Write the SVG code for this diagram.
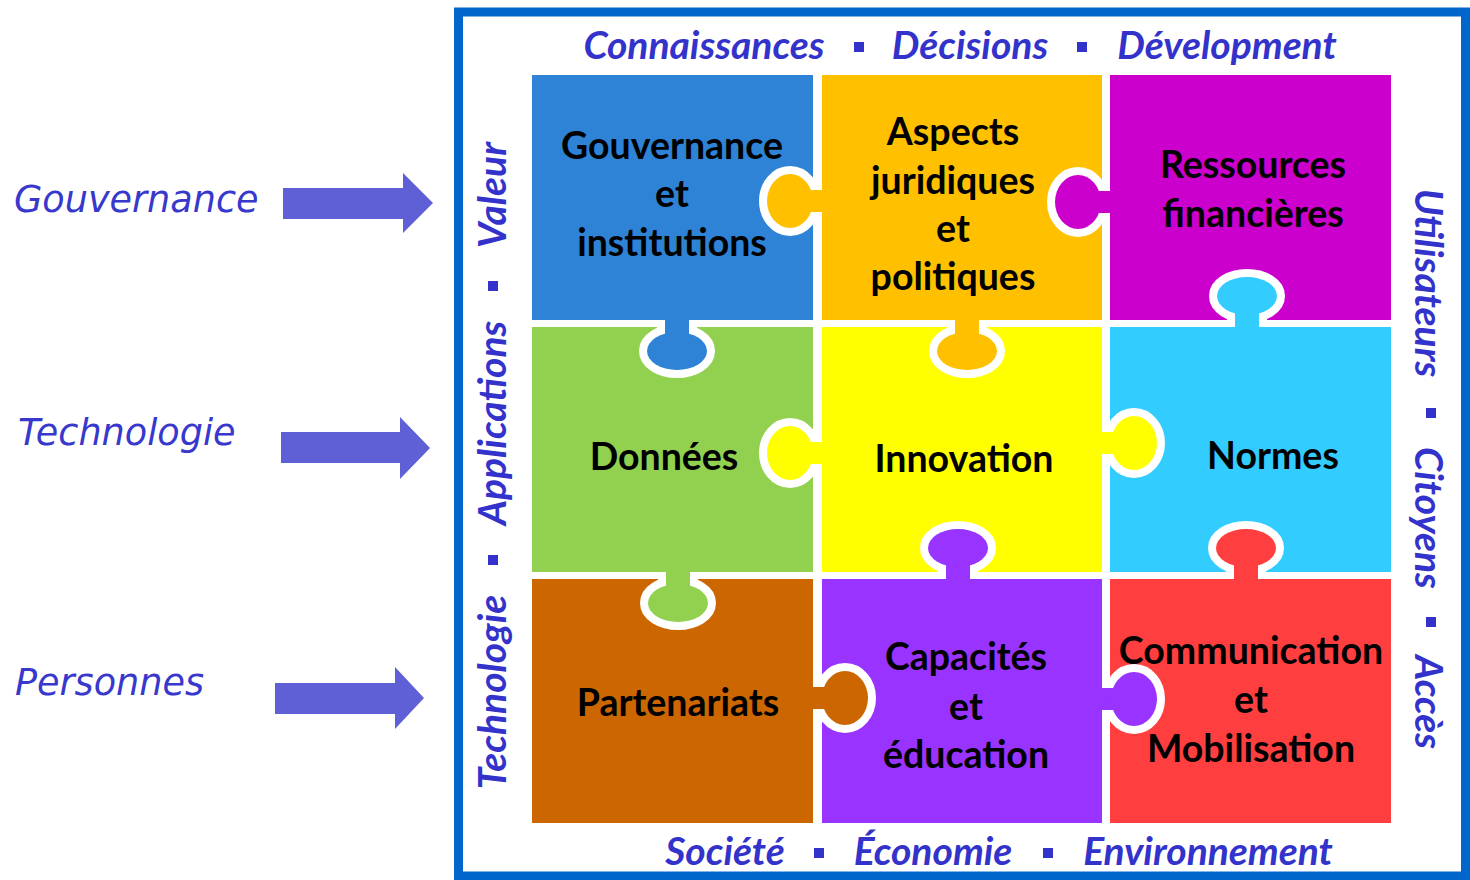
<svg xmlns="http://www.w3.org/2000/svg" xmlns:xlink="http://www.w3.org/1999/xlink" width="1470" height="880" viewBox="0 0 1470 880">
<style>
.frame{font-family:Lato,"Liberation Sans",sans-serif;font-weight:bold;font-style:italic;font-size:39px;fill:#3333CC;text-anchor:middle}
.side{font-family:"DejaVu Sans",Verdana,sans-serif;font-style:italic;font-size:36.6px;fill:#3838CC}
.lbl{font-family:Lato,"Liberation Sans",sans-serif;font-weight:bold;font-size:37.5px;fill:#000;text-anchor:middle}
.sq{fill:#3333CC}
.arrow{fill:#5F5FD6}
</style>
<defs>
<g id="vt"><rect x="-12" y="-4" width="24" height="26"/><ellipse cx="0" cy="31" rx="30" ry="19"/></g>
<g id="ht"><rect x="-4" y="-11" width="26" height="22"/><ellipse cx="32" cy="0" rx="23" ry="27"/></g>
<rect id="vc" x="-26" y="-14" width="52" height="14"/>
<rect id="hc" x="-14" y="-26" width="14" height="52"/>
</defs>
<rect width="1470" height="880" fill="#fff"/>

<g id="side-labels">
<text class="side" x="14" y="212">Gouvernance</text>
<text class="side" x="18" y="445">Technologie</text>
<text class="side" x="15" y="695">Personnes</text>
</g>
<g id="connectors">
<polygon class="arrow" points="283,188 403,188 403,173 433,203 403,233 403,219 283,219"/>
<polygon class="arrow" points="281,432 400,432 400,417 430,448 400,479 400,463 281,463"/>
<polygon class="arrow" points="275,683 395,683 395,667 424,698 395,729 395,714 275,714"/>
</g>

<g id="frame">
<rect x="458.5" y="12" width="1007" height="864" fill="none" stroke="#0066CC" stroke-width="9"/>
<text class="frame" x="704" y="59">Connaissances</text>
<rect class="sq" x="854" y="42" width="10" height="10"/>
<text class="frame" x="970" y="59">Décisions</text>
<rect class="sq" x="1077" y="42" width="10" height="10"/>
<text class="frame" x="1227" y="59">Dévelopment</text>
<text class="frame" x="725" y="865">Société</text>
<rect class="sq" x="814" y="848" width="10" height="10"/>
<text class="frame" x="933" y="865">Économie</text>
<rect class="sq" x="1043" y="848" width="10" height="10"/>
<text class="frame" x="1208" y="865">Environnement</text>
<text class="frame" transform="translate(506,692) rotate(-90)">Technologie</text>
<rect class="sq" x="488" y="555" width="10" height="10"/>
<text class="frame" transform="translate(506,423) rotate(-90)">Applications</text>
<rect class="sq" x="488" y="281" width="10" height="10"/>
<text class="frame" transform="translate(506,195) rotate(-90)">Valeur</text>
<text class="frame" transform="translate(1415,283) rotate(90)">Utilisateurs</text>
<rect class="sq" x="1426" y="408" width="10" height="10"/>
<text class="frame" transform="translate(1415,518) rotate(90)">Citoyens</text>
<rect class="sq" x="1426" y="617" width="10" height="10"/>
<text class="frame" transform="translate(1415,702) rotate(90)">Accès</text>
</g>

<g id="pieces">
<rect id="p-gouv" x="532" y="75" width="281" height="245" fill="#2E83D6"/>
<rect id="p-jur" x="822" y="75" width="280" height="245" fill="#FFC000"/>
<rect id="p-fin" x="1110" y="75" width="281" height="245" fill="#CC00CC"/>
<rect id="p-don" x="532" y="327" width="281" height="245" fill="#92D050"/>
<rect id="p-inn" x="822" y="327" width="280" height="245" fill="#FFFF00"/>
<rect id="p-norm" x="1110" y="327" width="281" height="245" fill="#33CCFF"/>
<rect id="p-part" x="532" y="579" width="281" height="244" fill="#CC6600"/>
<rect id="p-cap" x="822" y="579" width="280" height="244" fill="#9933FF"/>
<rect id="p-com" x="1110" y="579" width="281" height="244" fill="#FF3F3F"/>
</g>

<g id="tabs">
<g transform="translate(677,320)"><use xlink:href="#vt" fill="#fff" stroke="#fff" stroke-width="16"/><use xlink:href="#vt" fill="#2E83D6"/><use xlink:href="#vc" fill="#2E83D6"/></g>
<g transform="translate(967,320)"><use xlink:href="#vt" fill="#fff" stroke="#fff" stroke-width="16"/><use xlink:href="#vt" fill="#FFC000"/><use xlink:href="#vc" fill="#FFC000"/></g>
<g transform="translate(678,572)"><use xlink:href="#vt" fill="#fff" stroke="#fff" stroke-width="16"/><use xlink:href="#vt" fill="#92D050"/><use xlink:href="#vc" fill="#92D050"/></g>
<g transform="translate(1247,327) scale(1,-1)"><use xlink:href="#vt" fill="#fff" stroke="#fff" stroke-width="16"/><use xlink:href="#vt" fill="#33CCFF"/><use xlink:href="#vc" fill="#33CCFF"/></g>
<g transform="translate(958,579) scale(1,-1)"><use xlink:href="#vt" fill="#fff" stroke="#fff" stroke-width="16"/><use xlink:href="#vt" fill="#9933FF"/><use xlink:href="#vc" fill="#9933FF"/></g>
<g transform="translate(1246,579) scale(1,-1)"><use xlink:href="#vt" fill="#fff" stroke="#fff" stroke-width="16"/><use xlink:href="#vt" fill="#FF3F3F"/><use xlink:href="#vc" fill="#FF3F3F"/></g>
<g transform="translate(822,201) scale(-1,1)"><use xlink:href="#ht" fill="#fff" stroke="#fff" stroke-width="16"/><use xlink:href="#ht" fill="#FFC000"/><use xlink:href="#hc" fill="#FFC000"/></g>
<g transform="translate(1110,202) scale(-1,1)"><use xlink:href="#ht" fill="#fff" stroke="#fff" stroke-width="16"/><use xlink:href="#ht" fill="#CC00CC"/><use xlink:href="#hc" fill="#CC00CC"/></g>
<g transform="translate(822,453) scale(-1,1)"><use xlink:href="#ht" fill="#fff" stroke="#fff" stroke-width="16"/><use xlink:href="#ht" fill="#FFFF00"/><use xlink:href="#hc" fill="#FFFF00"/></g>
<g transform="translate(1102,443)"><use xlink:href="#ht" fill="#fff" stroke="#fff" stroke-width="16"/><use xlink:href="#ht" fill="#FFFF00"/><use xlink:href="#hc" fill="#FFFF00"/></g>
<g transform="translate(813,698)"><use xlink:href="#ht" fill="#fff" stroke="#fff" stroke-width="16"/><use xlink:href="#ht" fill="#CC6600"/><use xlink:href="#hc" fill="#CC6600"/></g>
<g transform="translate(1102,699)"><use xlink:href="#ht" fill="#fff" stroke="#fff" stroke-width="16"/><use xlink:href="#ht" fill="#9933FF"/><use xlink:href="#hc" fill="#9933FF"/></g>
</g>

<g id="labels">
<g id="n-gouv"><text class="lbl" x="672" y="159">Gouvernance</text><text class="lbl" x="672" y="207">et</text><text class="lbl" x="672" y="256">institutions</text></g>
<g id="n-jur"><text class="lbl" x="953" y="145">Aspects</text><text class="lbl" x="953" y="194">juridiques</text><text class="lbl" x="953" y="242">et</text><text class="lbl" x="953" y="290">politiques</text></g>
<g id="n-fin"><text class="lbl" x="1253" y="178">Ressources</text><text class="lbl" x="1253" y="227">financières</text></g>
<g id="n-don"><text class="lbl" x="664" y="470">Données</text></g>
<g id="n-inn"><text class="lbl" x="964" y="472">Innovation</text></g>
<g id="n-norm"><text class="lbl" x="1273" y="469">Normes</text></g>
<g id="n-part"><text class="lbl" x="678" y="716">Partenariats</text></g>
<g id="n-cap"><text class="lbl" x="966" y="670">Capacités</text><text class="lbl" x="966" y="720">et</text><text class="lbl" x="966" y="768">éducation</text></g>
<g id="n-com"><text class="lbl" x="1251" y="664">Communication</text><text class="lbl" x="1251" y="713">et</text><text class="lbl" x="1251" y="762">Mobilisation</text></g>
</g>
</svg>
